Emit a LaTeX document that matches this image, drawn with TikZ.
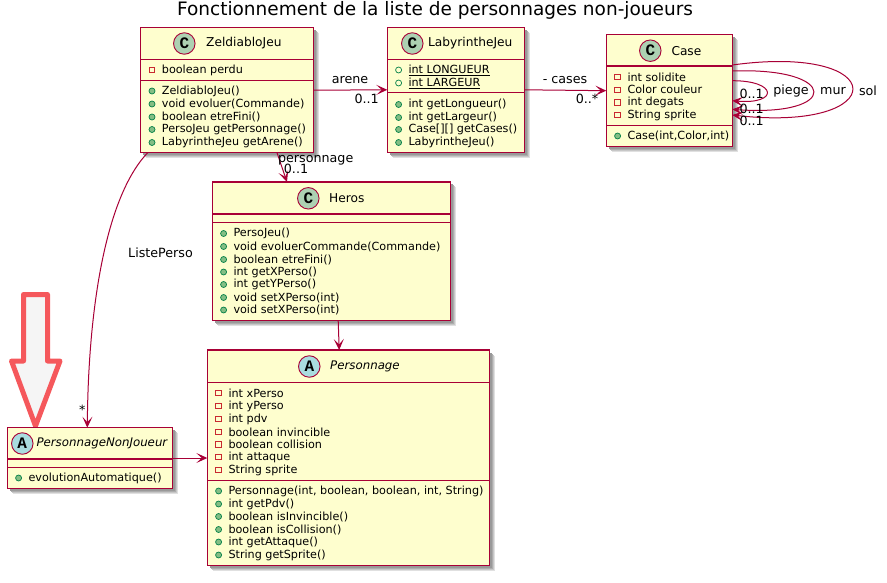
\documentclass[tikz,border=0pt]{standalone}
\usepackage{fontspec}
\setmainfont{DejaVu Sans}
\newfontfamily\letterfont{Liberation Mono}
\usetikzlibrary{arrows.meta}
\definecolor{umlred}{RGB}{168, 0, 54}
\definecolor{umlyellow}{RGB}{254, 254, 206}
\definecolor{umlgreen}{RGB}{173, 209, 178}
\definecolor{umlblue}{RGB}{169, 220, 223}
\definecolor{privred}{RGB}{200, 41, 48}
\definecolor{pubgreen}{RGB}{3, 128, 72}
\definecolor{pubfill}{RGB}{132, 190, 132}
\definecolor{bigred}{RGB}{245, 88, 92}
\tikzset{
    umlbox/.style    = {draw=umlred, fill=umlyellow, line width=1.5pt, inner sep=0pt, outer sep=0pt},
    umlline/.style   = {draw=umlred, line width=1.1pt},
    umlarrow/.style  = {draw=umlred, line width=1pt, -{Stealth[length=11pt, width=10pt, inset=5.5pt]}},
    headmark/.style  = {circle, draw=umlred, line width=.9pt, minimum size=21.5pt, inner sep=0pt, font=\letterfont\bfseries\fontsize{16}{16}\selectfont},
    headtext/.style  = {anchor=west, inner sep=0pt, font=\fontsize{12.2}{14}\selectfont},
    abstext/.style   = {anchor=west, inner sep=0pt, font=\itshape\fontsize{11.8}{14}\selectfont},
    rowtext/.style   = {anchor=west, inner sep=0pt, font=\fontsize{11.2}{13}\selectfont},
    privmark/.style  = {rectangle, draw=privred, line width=.8pt, minimum size=5.5pt, inner sep=0pt},
    pubmark/.style   = {circle, draw=pubgreen, fill=pubfill, line width=.7pt, minimum size=6pt, inner sep=0pt},
    openmark/.style  = {circle, draw=pubgreen, line width=.7pt, minimum size=6pt, inner sep=0pt},
    edgetext/.style  = {inner sep=0pt, font=\fontsize{12.7}{14}\selectfont},
    titletext/.style = {inner sep=0pt, font=\fontsize{18.5}{21}\selectfont},
    bigarrow/.style  = {draw=bigred, fill=black!4, line width=5pt, line join=round},
}
% name, left, top, right, bottom, first and second divider
\newcommand{\umlclass}[7]{
    \foreach \s/\g in {5.5/12,4.5/22,3.5/32,2.5/40}
        \fill[black!\g] (#2+\s,#3+\s) rectangle (#4+\s,#5+\s);
    \pgfmathsetmacro{\boxw}{#4-#2}
    \pgfmathsetmacro{\boxh}{#5-#3}
    \node[umlbox, minimum width=\boxw pt, minimum height=\boxh pt] (#1) at ({(#2+#4)/2},{(#3+#5)/2}) {};
    \draw[umlline] (#2,#6) -- (#4,#6);
    \draw[umlline] (#2,#7) -- (#4,#7);
}
% name, letter, colour, mark x, y, text x, text style, title
\newcommand{\umlhead}[8]{
    \node[headmark, fill=#3] (#1mark) at (#4,#5) {#2};
    \node[#7] (#1title) at (#6,#5) {#8};
}
% name, mark style, left, rows
\newcommand{\umlrows}[4]{
    \foreach \rowy/\rowtext [count=\i] in {#4} {
        \node[#2] (#1mark\i) at (#3+11.3,\rowy) {};
        \node[rowtext] (#1text\i) at (#3+21,\rowy) {\rowtext};
    }
}
\begin{document}
\begin{tikzpicture}[x=1pt, y=-1pt]
    \useasboundingbox (0,0) rectangle (887,583);
    \node[titletext] (maintitle) at (435,10) {Fonctionnement de la liste de personnages non-joueurs};

    \draw[bigarrow] (23.5,294.5) -- (47.5,294.5) -- (47.5,361) -- (60,361) -- (35.5,426) -- (11.5,361) -- (23.5,361) -- cycle;

    \umlclass{zeld}{140.7}{27.7}{313.7}{152.7}{59.3}{80.3}
    \umlhead{zeld}{C}{umlgreen}{184.3}{43.5}{206}{headtext}{ZeldiabloJeu}
    \umlrows{zeldf}{privmark}{140.7}{70/boolean perdu}
    \umlrows{zeldm}{pubmark}{140.7}{91/ZeldiabloJeu(), 104/void evoluer(Commande), 117/boolean etreFini(), 129.5/PersoJeu getPersonnage(), 142.5/LabyrintheJeu getArene()}

    \umlclass{laby}{387.3}{27.3}{524.3}{152.3}{59.3}{92.7}
    \umlhead{laby}{C}{umlgreen}{412.3}{43.5}{428}{headtext}{LabyrintheJeu}
    \umlrows{labyf}{openmark}{387.3}{70/\underline{int LONGUEUR}, 83/\underline{int LARGEUR}}
    \umlrows{labym}{pubmark}{387.3}{104.5/int getLongueur(), 117.5/int getLargeur(), 129.5/Case[][] getCases(), 142.5/LabyrintheJeu()}

    \umlclass{case}{606.3}{34.7}{732.3}{146.7}{66}{125.7}
    \umlhead{case}{C}{umlgreen}{650.3}{50.7}{671.3}{headtext}{Case}
    \umlrows{casef}{privmark}{606.3}{77/int solidite, 89.7/Color couleur, 102.5/int degats, 115/String sprite}
    \umlrows{casem}{pubmark}{606.3}{136/{Case(int,Color,int)}}

    \umlclass{heros}{212.3}{182}{450.7}{320.5}{214}{222.5}
    \umlhead{heros}{C}{umlgreen}{308.3}{198.3}{329}{headtext}{Heros}
    \umlrows{herosm}{pubmark}{212.3}{233.5/PersoJeu(), 246.5/void evoluerCommande(Commande), 259.5/boolean etreFini(), 272/int getXPerso(), 284.5/int getYPerso(), 297.5/void setXPerso(int), 310/void setXPerso(int)}

    \umlclass{perso}{207.3}{350}{489.7}{565.3}{382.3}{480.3}
    \umlhead{perso}{A}{umlblue}{309.3}{366.5}{330}{abstext}{Personnage}
    \umlrows{persof}{privmark}{207.3}{393/int xPerso, 406/int yPerso, 419/int pdv, 432/boolean invincible, 444.5/boolean collision, 457/int attaque, 470/String sprite}
    \umlrows{persom}{pubmark}{207.3}{491/{Personnage(int, boolean, boolean, int, String)}, 504/int getPdv(), 516.5/boolean isInvincible(), 529.5/boolean isCollision(), 542/int getAttaque(), 555/String getSprite()}

    \umlclass{pnj}{7.3}{427.7}{172.3}{488.3}{459}{467.3}
    \umlhead{pnj}{A}{umlblue}{22.3}{443.5}{36.3}{abstext}{PersonnageNonJoueur}
    \umlrows{pnjm}{pubmark}{7.3}{478/evolutionAutomatique()}

    % associations
    \draw[umlarrow] (zeld.east) -- (laby.west);
    \draw[umlarrow] (laby.east) -- (case.west);
    \draw[umlarrow] ([xshift=-36.7pt]zeld.south east) -- ([xshift=74.7pt]heros.north west);
    \draw[umlarrow] ([xshift=-112.5pt]heros.south east) -- ([xshift=-150.5pt]perso.north east);
    \draw[umlarrow] (pnj.east) -- (pnj.east -| perso.west);
    \draw[umlarrow] ([xshift=7pt]zeld.south west) .. controls +(-42,44) and +(1,-120) .. ([xshift=-2.5pt]pnj.north);

    % loops on Case
    \draw[umlarrow] ([yshift=10pt]case.east) .. controls +(46,0) and +(46,4) .. ([yshift=-10pt]case.east);
    \draw[umlarrow] ([yshift=19.7pt]case.east) .. controls +(108,-4) and +(108,8) .. ([yshift=-18.6pt]case.east);
    \draw[umlarrow] ([yshift=25.7pt]case.east) .. controls +(160,-22) and +(160,18) .. ([yshift=-24.3pt]case.east);

    % labels
    \node[edgetext] (lblarene) at (350,80) {arene};
    \node[edgetext] (lblarenem) at (366.7,98.5) {0..1};
    \node[edgetext] (lblcases) at (565,80) {- cases};
    \node[edgetext] (lblcasesm) at (587,98.5) {0..*};
    \node[edgetext] (lblperso) at (315.7,160) {personnage};
    \node[edgetext] (lblpersom) at (296,169) {0..1};
    \node[edgetext] (lblliste) at (160.5,252.5) {ListePerso};
    \node[edgetext] (lblstar) at (82.3,410) {*};
    \node[edgetext] (lblpiege) at (791,90.7) {piege};
    \node[edgetext] (lblmur) at (833,90.7) {mur};
    \node[edgetext] (lblsol) at (868,90.7) {sol};
    \node[edgetext] (lblpiegem) at (751.7,94) {0..1};
    \node[edgetext] (lblmurm) at (751.7,108.7) {0..1};
    \node[edgetext] (lblsolm) at (751.7,120.7) {0..1};
\end{tikzpicture}
\end{document}
